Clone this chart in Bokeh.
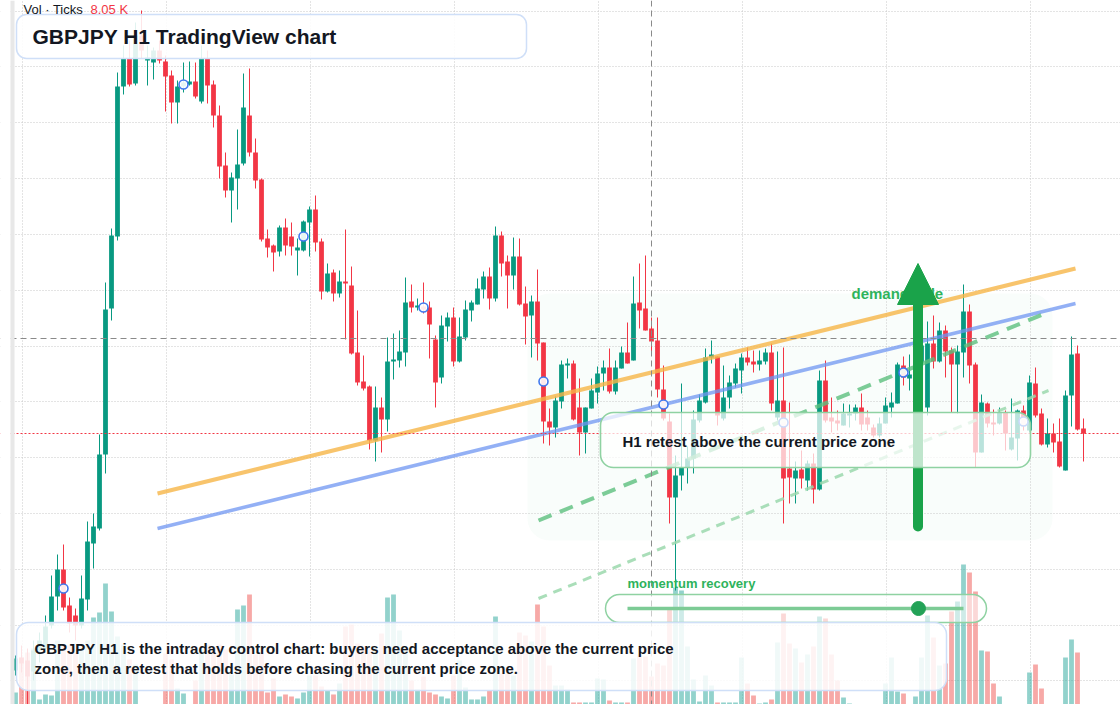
from bokeh.plotting import figure
from bokeh.models import (Range1d, BoxAnnotation, Label, Arrow, NormalHead, Grid,
                          FixedTicker, Span, ColumnDataSource)
from bokeh.embed import file_html
from bokeh.resources import INLINE

# ---------------------------------------------------------------- data
symbol = "GBPJPY"
timeframe = "H1"

open_ = [
    199.330, 199.343, 199.340, 199.329, 199.350, 199.352, 199.375, 199.404, 199.431, 199.395,
    199.385, 199.375, 199.401, 199.457, 199.472, 199.546, 199.692, 199.764, 199.914, 199.942,
    199.917, 199.965, 199.940, 199.938, 199.950, 199.939, 199.925, 199.898, 199.914, 199.916,
    199.919, 199.899, 199.942, 199.916, 199.885, 199.835, 199.810, 199.822, 199.837, 199.885,
    199.848, 199.821, 199.762, 199.755, 199.749, 199.773, 199.764, 199.750, 199.750, 199.778,
    199.791, 199.759, 199.709, 199.728, 199.707, 199.719, 199.715, 199.648, 199.619, 199.614,
    199.560, 199.593, 199.581, 199.639, 199.640, 199.648, 199.699, 199.693, 199.694, 199.693,
    199.661, 199.623, 199.674, 199.683, 199.639, 199.663, 199.690, 199.696, 199.711, 199.724,
    199.702, 199.765, 199.739, 199.725, 199.744, 199.697, 199.685, 199.699, 199.658, 199.579,
    199.573, 199.599, 199.635, 199.637, 199.593, 199.568, 199.592, 199.608, 199.627, 199.633,
    199.609, 199.632, 199.648, 199.640, 199.698, 199.692, 199.672, 199.660, 199.611, 199.579,
    199.503, 199.525, 199.533, 199.542, 199.580, 199.598, 199.643, 199.644, 199.582, 199.603,
    199.617, 199.630, 199.643, 199.639, 199.636, 199.639, 199.648, 199.583, 199.600, 199.532,
    199.522, 199.531, 199.520, 199.537, 199.511, 199.620, 199.583, 199.580, 199.575, 199.585,
    199.587, 199.593, 199.583, 199.573, 199.565, 199.577, 199.593, 199.597, 199.635, 199.622,
    199.622, 199.638, 199.593, 199.657, 199.639, 199.670, 199.650, 199.636, 199.648, 199.689,
    199.636, 199.548, 199.597, 199.578, 199.577, 199.588, 199.551, 199.562, 199.590, 199.570,
    199.617, 199.587, 199.556, 199.567, 199.559, 199.530, 199.605, 199.647, 199.572,
]
high = [
    199.345, 199.355, 199.352, 199.360, 199.368, 199.385, 199.425, 199.446, 199.456, 199.403,
    199.392, 199.425, 199.479, 199.487, 199.566, 199.718, 199.772, 199.928, 199.955, 199.960,
    199.978, 199.990, 199.955, 199.953, 199.960, 199.945, 199.930, 199.920, 199.938, 199.939,
    199.938, 199.955, 199.950, 199.920, 199.895, 199.848, 199.828, 199.871, 199.927, 199.932,
    199.862, 199.822, 199.771, 199.756, 199.775, 199.782, 199.778, 199.762, 199.780, 199.794,
    199.805, 199.762, 199.737, 199.731, 199.730, 199.771, 199.734, 199.690, 199.645, 199.615,
    199.614, 199.603, 199.663, 199.667, 199.670, 199.723, 199.716, 199.702, 199.718, 199.699,
    199.665, 199.685, 199.688, 199.693, 199.683, 199.700, 199.700, 199.722, 199.729, 199.733,
    199.774, 199.769, 199.745, 199.763, 199.762, 199.714, 199.705, 199.731, 199.658, 199.592,
    199.604, 199.640, 199.642, 199.640, 199.622, 199.593, 199.622, 199.634, 199.640, 199.652,
    199.640, 199.654, 199.678, 199.724, 199.737, 199.745, 199.683, 199.683, 199.635, 199.587,
    199.545, 199.617, 199.554, 199.590, 199.606, 199.652, 199.660, 199.644, 199.635, 199.625,
    199.637, 199.647, 199.653, 199.650, 199.650, 199.652, 199.657, 199.649, 199.653, 199.598,
    199.539, 199.550, 199.540, 199.547, 199.630, 199.640, 199.603, 199.590, 199.597, 199.596,
    199.596, 199.607, 199.590, 199.576, 199.583, 199.603, 199.608, 199.638, 199.644, 199.646,
    199.650, 199.682, 199.679, 199.685, 199.678, 199.675, 199.653, 199.655, 199.716, 199.696,
    199.638, 199.606, 199.598, 199.591, 199.593, 199.590, 199.602, 199.591, 199.595, 199.625,
    199.633, 199.592, 199.582, 199.577, 199.582, 199.610, 199.664, 199.655, 199.582,
]
low = [
    199.325, 199.328, 199.288, 199.320, 199.338, 199.348, 199.372, 199.390, 199.390, 199.368,
    199.360, 199.372, 199.390, 199.432, 199.470, 199.527, 199.680, 199.760, 199.906, 199.914,
    199.915, 199.942, 199.915, 199.921, 199.937, 199.889, 199.877, 199.877, 199.908, 199.915,
    199.902, 199.897, 199.897, 199.873, 199.822, 199.803, 199.778, 199.791, 199.835, 199.844,
    199.812, 199.759, 199.743, 199.729, 199.744, 199.745, 199.745, 199.725, 199.749, 199.744,
    199.749, 199.701, 199.708, 199.699, 199.703, 199.661, 199.646, 199.615, 199.610, 199.551,
    199.539, 199.548, 199.569, 199.621, 199.633, 199.634, 199.688, 199.690, 199.687, 199.642,
    199.593, 199.617, 199.659, 199.634, 199.638, 199.660, 199.679, 199.696, 199.702, 199.691,
    199.699, 199.724, 199.692, 199.711, 199.695, 199.656, 199.643, 199.640, 199.557, 199.555,
    199.563, 199.592, 199.622, 199.580, 199.545, 199.547, 199.592, 199.597, 199.610, 199.607,
    199.606, 199.632, 199.637, 199.640, 199.672, 199.670, 199.647, 199.603, 199.580, 199.477,
    199.410, 199.510, 199.517, 199.527, 199.578, 199.597, 199.637, 199.575, 199.580, 199.592,
    199.613, 199.607, 199.635, 199.628, 199.630, 199.636, 199.590, 199.580, 199.477, 199.497,
    199.497, 199.512, 199.510, 199.497, 199.510, 199.578, 199.568, 199.570, 199.575, 199.573,
    199.580, 199.570, 199.570, 199.563, 199.563, 199.577, 199.583, 199.597, 199.615, 199.610,
    199.605, 199.620, 199.585, 199.632, 199.638, 199.623, 199.588, 199.587, 199.623, 199.617,
    199.533, 199.548, 199.573, 199.565, 199.576, 199.550, 199.550, 199.540, 199.570, 199.568,
    199.583, 199.555, 199.553, 199.548, 199.533, 199.530, 199.574, 199.570, 199.539,
]
close = [
    199.342, 199.337, 199.324, 199.350, 199.360, 199.374, 199.404, 199.431, 199.393, 199.377,
    199.375, 199.402, 199.459, 199.474, 199.546, 199.691, 199.765, 199.914, 199.942, 199.916,
    199.965, 199.950, 199.943, 199.950, 199.940, 199.924, 199.898, 199.914, 199.918, 199.919,
    199.904, 199.942, 199.915, 199.885, 199.834, 199.810, 199.823, 199.836, 199.893, 199.848,
    199.820, 199.761, 199.753, 199.748, 199.773, 199.755, 199.754, 199.753, 199.779, 199.791,
    199.758, 199.709, 199.727, 199.707, 199.719, 199.717, 199.647, 199.618, 199.612, 199.560,
    199.593, 199.581, 199.639, 199.641, 199.649, 199.698, 199.693, 199.695, 199.691, 199.676,
    199.618, 199.675, 199.683, 199.639, 199.664, 199.691, 199.698, 199.712, 199.724, 199.702,
    199.765, 199.737, 199.725, 199.744, 199.696, 199.684, 199.699, 199.657, 199.579, 199.573,
    199.600, 199.636, 199.637, 199.581, 199.568, 199.593, 199.610, 199.627, 199.633, 199.609,
    199.633, 199.648, 199.637, 199.697, 199.690, 199.670, 199.659, 199.611, 199.582, 199.503,
    199.525, 199.533, 199.542, 199.581, 199.600, 199.643, 199.646, 199.585, 199.603, 199.618,
    199.632, 199.643, 199.638, 199.636, 199.640, 199.648, 199.597, 199.600, 199.522, 199.523,
    199.530, 199.522, 199.537, 199.511, 199.620, 199.580, 199.579, 199.577, 199.587, 199.587,
    199.593, 199.576, 199.576, 199.565, 199.577, 199.595, 199.598, 199.636, 199.623, 199.626,
    199.640, 199.655, 199.657, 199.639, 199.670, 199.649, 199.636, 199.649, 199.689, 199.635,
    199.548, 199.598, 199.577, 199.576, 199.588, 199.567, 199.563, 199.590, 199.575, 199.618,
    199.585, 199.556, 199.567, 199.558, 199.534, 199.605, 199.646, 199.571, 199.567,
]
# tick volume per bar, thousands
volume_k = [
    3.45, 13.51, 14.95, 16.10, 1.44, 2.88, 2.59, 18.40, 16.96, 16.96,
    14.95, 16.39, 18.40, 25.01, 26.45, 34.79, 26.74, 19.55, 17.25, 12.94,
    11.50, 0, 0, 0, 0, 14.66, 12.94, 4.60, 3.16, 0,
    6.90, 15.81, 17.25, 16.68, 17.25, 15.81, 8.63, 27.31, 28.46, 31.63,
    14.38, 14.66, 3.45, 7.48, 2.30, 2.88, 2.30, 1.73, 3.45, 8.34,
    8.34, 5.18, 4.03, 2.88, 6.04, 22.43, 23.00, 17.54, 16.68, 15.81,
    16.68, 20.41, 30.76, 31.63, 21.28, 16.10, 6.90, 4.31, 8.05, 3.45,
    2.88, 2.30, 1.73, 8.34, 12.65, 4.89, 1.44, 1.44, 2.30, 4.03,
    25.30, 8.91, 8.91, 8.34, 20.70, 19.84, 18.11, 28.75, 22.43, 11.21,
    5.46, 5.46, 4.31, 0.58, 0.58, 0.58, 0.58, 7.48, 7.19, 1.15,
    0.58, 0.58, 0.58, 13.23, 14.38, 13.80, 8.05, 11.79, 11.21, 27.89,
    33.64, 32.78, 16.68, 7.19, 0.86, 8.34, 5.46, 0.58, 0.58, 0.58,
    0.58, 13.51, 6.04, 2.59, 0.29, 0.58, 1.44, 17.83, 26.16, 17.54,
    16.10, 12.08, 14.38, 16.68, 25.30, 24.73, 14.38, 6.90, 2.01, 0.29,
    0, 0, 0, 0, 0, 6.04, 13.51, 3.74, 3.16, 0,
    2.30, 13.51, 25.59, 19.26, 11.21, 11.79, 26.74, 29.61, 40.25, 37.95,
    32.49, 15.53, 15.24, 6.04, 2.30, 0, 0, 0, 0, 9.20,
    11.50, 4.60, 0, 0, 0, 13.51, 18.69, 14.95, 0,
]

# bar markers (every 20th bar)
marker_bars = [8, 28, 48, 68, 88, 108, 128, 148, 168]
marker_prices = [199.412, 199.916, 199.764, 199.693, 199.619, 199.596, 199.578, 199.628, 199.579]

# crosshair and last price
crosshair_bar = 106
crosshair_price = 199.662
last_price = 199.567

# drawn trend lines: (bar, price) end points
support_bars = [23.67, 176.67]
support_prices = [199.507, 199.732]
channel_bars = [23.67, 176.67]
channel_prices = [199.472, 199.697]
retest_bars = [87.17, 172.0]
retest_prices = [199.480, 199.688]
recovery_bars = [87.17, 172.17]
recovery_prices = [199.402, 199.610]

# momentum gauge reading (0..1)
momentum_level = 0.866

# grid positions
grid_bars = [1.12, 25.12, 49.12, 73.12, 97.12, 121.12, 145.12, 169.12]
grid_prices = [199.989, 199.934, 199.878, 199.822, 199.766, 199.710, 199.654,
               199.599, 199.543, 199.487, 199.431, 199.375, 199.320]

# ---------------------------------------------------------------- layout
W, H = 1120, 704
BAR_PX = 6.0          # horizontal spacing of bars in pixels
X0_PX = 15.0          # pixel position of bar 0
PRICE_TOP = 200.0
PX_PER_PRICE = 1000.0


def bx(px):
    """pixel column -> bar coordinate"""
    return (px - X0_PX) / BAR_PX


def by(py):
    """pixel row -> price coordinate"""
    return PRICE_TOP - py / PX_PER_PRICE


def card(left, top, right, bottom, fill_alpha, line_color, radius, line_width=1.5, **kw):
    return BoxAnnotation(left=bx(left), right=bx(right), top=by(top), bottom=by(bottom),
                         fill_color="white", fill_alpha=fill_alpha,
                         line_color=line_color, line_alpha=1.0, line_dash="solid",
                         line_width=line_width, border_radius=radius, **kw)


UP, DOWN = "#089981", "#f23645"
VOL_UP, VOL_DOWN = "#26a69a", "#ef5350"
TEXT = "#131722"
FONT = "Liberation Sans"
GREEN = "#1aa34a"
CARD_BLUE = "#cfdff8"
CARD_GREEN = "#8fd2a2"

bars = list(range(len(close)))
is_up = [c >= o for o, c in zip(open_, close)]
src = ColumnDataSource(dict(
    x=bars,
    high=high,
    low=low,
    top=[max(o, c) for o, c in zip(open_, close)],
    bottom=[min(o, c) for o, c in zip(open_, close)],
    color=[UP if u else DOWN for u in is_up],
    vcolor=[VOL_UP if u else VOL_DOWN for u in is_up],
    volume=volume_k,
))

p = figure(width=W, height=H, output_backend="svg", toolbar_location=None,
           x_range=Range1d(bx(0), bx(W)), y_range=Range1d(by(H), by(0)),
           x_axis_location=None, y_axis_location=None,
           min_border=0, outline_line_color=None,
           background_fill_color="white", border_fill_color="white")
p.grid.visible = False
p.extra_y_ranges = {"vol": Range1d(0, H * 0.2875)}

# soft demand zone behind the price action
p.add_layout(BoxAnnotation(left=bx(527), right=bx(1052), top=by(293), bottom=by(540),
                           fill_color="#22c55e", fill_alpha=0.028, line_color=None,
                           border_radius=22, level="underlay"))

# dotted grid
p.add_layout(Grid(dimension=0, ticker=FixedTicker(ticks=grid_bars),
                  grid_line_color="#c9c9c9", grid_line_dash="1 2", grid_line_width=1))
p.add_layout(Grid(dimension=1, ticker=FixedTicker(ticks=grid_prices),
                  grid_line_color="#c9c9c9", grid_line_dash="1 2", grid_line_width=1))

# volume
p.vbar(x="x", top="volume", bottom=0, width=0.8, fill_color="vcolor", fill_alpha=0.5,
       line_color=None, y_range_name="vol", source=src)

# candles
p.segment(x0="x", y0="low", x1="x", y1="high", line_color="color", line_width=1, source=src)
p.vbar(x="x", top="top", bottom="bottom", width=0.8, fill_color="color",
       line_color=None, source=src)

# price lines
p.add_layout(Span(location=last_price, dimension="width", line_color=DOWN,
                  line_dash="2 2", line_width=1))
p.add_layout(Span(location=crosshair_price, dimension="width", line_color="#8a8a8a",
                  line_dash="6 4", line_width=1))
p.add_layout(Span(location=crosshair_bar, dimension="height", line_color="#8a8a8a",
                  line_dash="6 4", line_width=1))

# trend lines
p.line(support_bars, support_prices, line_color="#f6b547", line_alpha=0.8, line_width=4)
p.line(channel_bars, channel_prices, line_color="#6f95f2", line_alpha=0.75, line_width=3.5)
p.line(retest_bars, retest_prices, line_color="#5cbf7e", line_alpha=0.8, line_width=4,
       line_dash="14 9")
p.line(recovery_bars, recovery_prices, line_color="#9bd8ad", line_alpha=0.85, line_width=3,
       line_dash="9 7")

# bar markers
p.scatter(marker_bars, marker_prices, marker="circle", size=9, fill_color="white",
          fill_alpha=0.9, line_color="#3f78ee", line_width=1.6)

# demand label and arrow (shaft and head drawn separately so the head tip stays sharp)
p.add_layout(Label(x=bx(851), y=by(293), text="demand side", text_font=FONT,
                   text_font_style="bold", text_font_size="15px", text_color="#2eb35c",
                   text_baseline="middle"))
p.add_layout(Arrow(start=None, end=None,
                   x_start=bx(917.5), y_start=by(526), x_end=bx(917.5), y_end=by(300),
                   line_color=GREEN, line_width=10, line_cap="round"))
p.add_layout(Arrow(end=NormalHead(size=41, fill_color=GREEN, line_color=GREEN, line_width=1),
                   x_start=bx(917.5), y_start=by(300), x_end=bx(917.5), y_end=by(263),
                   line_alpha=0.0))

# retest callout
p.add_layout(card(600, 412, 1030, 467, 0.72, CARD_GREEN, 13, line_width=1.6))
p.add_layout(Label(x=bx(622), y=by(441), text=f"{timeframe} retest above the current price zone",
                   text_font=FONT, text_font_style="bold", text_font_size="15px",
                   text_color=TEXT, text_baseline="middle"))

# momentum gauge
p.add_layout(Label(x=bx(627), y=by(583), text="momentum recovery", text_font=FONT,
                   text_font_style="bold", text_font_size="13px", text_color="#2eb35c",
                   text_baseline="middle"))
p.add_layout(card(605, 594, 986, 622, 0.55, CARD_GREEN, 14))
track_start, track_end = 627, 963
track = p.line([bx(track_start), bx(track_end)], [by(608), by(608)],
               line_color="#7ccb95", line_width=3.5)
track.level = "overlay"
knob_px = track_start + momentum_level * (track_end - track_start)
knob = p.scatter([bx(knob_px)], [by(608)], marker="circle", size=14,
                 fill_color="#23a257", line_color="#23a257")
knob.level = "overlay"

# title card
p.add_layout(card(16, 14, 526, 58, 0.88, CARD_BLUE, 10))
p.add_layout(Label(x=bx(32), y=by(36), text=f"{symbol} {timeframe} TradingView chart",
                   text_font=FONT, text_font_style="bold", text_font_size="21px",
                   text_color=TEXT, text_baseline="middle"))

# caption card
p.add_layout(card(16, 622, 946, 690, 0.86, CARD_BLUE, 12))
caption = [
    f"{symbol} {timeframe} is the intraday control chart: buyers need acceptance above the current price",
    "zone, then a retest that holds before chasing the current price zone.",
]
for k, line in enumerate(caption):
    p.add_layout(Label(x=bx(34), y=by(648 + 19.5 * k), text=line, text_font=FONT,
                       text_font_style="bold", text_font_size="15px", text_color=TEXT,
                       text_baseline="middle"))

# volume legend
p.add_layout(Label(x=bx(23), y=by(8.5), text="Vol \u00b7 Ticks", text_font=FONT,
                   text_font_size="13px", text_color=TEXT, text_baseline="middle"))
hover_vol = volume_k[crosshair_bar]
p.add_layout(Label(x=bx(90), y=by(8.5), text=f"{hover_vol:.2f} K", text_font=FONT,
                   text_font_size="13px",
                   text_color=UP if is_up[crosshair_bar] else DOWN, text_baseline="middle"))

# left scale edge
p.add_layout(BoxAnnotation(left=bx(0), right=bx(10), fill_color="white", fill_alpha=1,
                           line_color=None, level="overlay"))
p.add_layout(BoxAnnotation(left=bx(10), right=bx(14), fill_color="#e8e8e8", fill_alpha=1,
                           line_color=None, level="overlay"))

open("out.html", "w").write(file_html(p, INLINE))
